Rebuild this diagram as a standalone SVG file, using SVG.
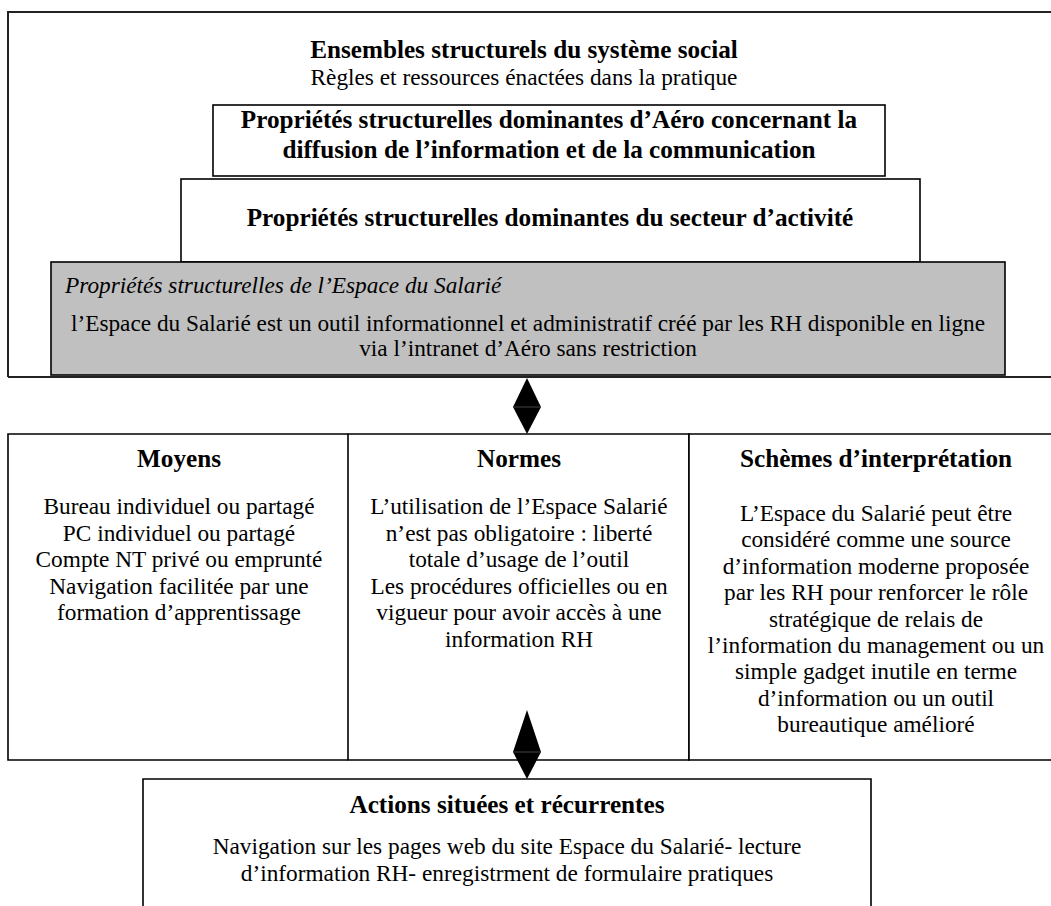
<svg xmlns="http://www.w3.org/2000/svg" width="1051" height="906" viewBox="0 0 1051 906">
<style>
.b{font-family:"Liberation Serif","Times New Roman",serif;font-weight:bold;font-size:25.2px;fill:#000;text-anchor:middle}
.r{font-family:"Liberation Serif","Times New Roman",serif;font-size:23.3px;fill:#000;text-anchor:middle}
.i{font-family:"Liberation Serif","Times New Roman",serif;font-style:italic;font-size:23.3px;fill:#000}
.box{fill:#fff;stroke:#000;stroke-width:1.6}
.line{stroke:#222;stroke-width:2;fill:none}
.arr{fill:#000}
</style>
<rect width="1051" height="906" fill="#fff"/>
<g id="frame">
<path class="line" d="M8,377 V12 H1051"/>
<path class="line" d="M8,377 H1051"/>
<text class="b" x="524" y="58">Ensembles structurels du système social</text>
<text class="r" x="524" y="85">Règles et ressources énactées dans la pratique</text>
</g>
<g id="aero">
<rect class="box" x="213" y="105" width="672" height="71"/>
<text class="b" x="549" y="128">Propriétés structurelles dominantes d’Aéro concernant la</text>
<text class="b" x="549" y="158">diffusion de l’information et de la communication</text>
</g>
<g id="secteur">
<rect class="box" x="181" y="179" width="739" height="83"/>
<text class="b" x="550" y="226">Propriétés structurelles dominantes du secteur d’activité</text>
</g>
<g id="espace">
<rect x="51" y="262" width="954" height="113" fill="#c0c0c0" stroke="#000" stroke-width="1.6"/>
<text class="i" x="65" y="293">Propriétés structurelles de l’Espace du Salarié</text>
<text class="r" x="528" y="331">l’Espace du Salarié est un outil informationnel et administratif créé par les RH disponible en ligne</text>
<text class="r" x="528" y="356">via l’intranet d’Aéro sans restriction</text>
</g>
<g id="moyens">
<path class="box" d="M348,434 H8 V760 H348"/>
<text class="b" x="179" y="467">Moyens</text>
<text class="r" x="179" y="514">Bureau individuel ou partagé</text>
<text class="r" x="179" y="540.5">PC individuel ou partagé</text>
<text class="r" x="179" y="567">Compte NT privé ou emprunté</text>
<text class="r" x="179" y="593.5">Navigation facilitée par une</text>
<text class="r" x="179" y="620">formation d’apprentissage</text>
</g>
<g id="normes">
<path class="box" d="M348,434 H689 V760 H348 Z"/>
<text class="b" x="519" y="467">Normes</text>
<text class="r" x="519" y="514">L’utilisation de l’Espace Salarié</text>
<text class="r" x="519" y="540.5">n’est pas obligatoire : liberté</text>
<text class="r" x="519" y="567">totale d’usage de l’outil</text>
<text class="r" x="519" y="593.5">Les procédures officielles ou en</text>
<text class="r" x="519" y="620">vigueur pour avoir accès à une</text>
<text class="r" x="519" y="646.5">information RH</text>
</g>
<g id="schemes">
<path class="box" d="M1051,434 H689 V760 H1051"/>
<text class="b" x="876" y="467">Schèmes d’interprétation</text>
<text class="r" x="876" y="521">L’Espace du Salarié peut être</text>
<text class="r" x="876" y="547.4">considéré comme une source</text>
<text class="r" x="876" y="573.8">d’information moderne proposée</text>
<text class="r" x="876" y="600.2">par les RH pour renforcer le rôle</text>
<text class="r" x="876" y="626.6">stratégique de relais de</text>
<text class="r" x="876" y="653">l’information du management ou un</text>
<text class="r" x="876" y="679.4">simple gadget inutile en terme</text>
<text class="r" x="876" y="705.8">d’information ou un outil</text>
<text class="r" x="876" y="732.2">bureautique amélioré</text>
</g>
<g id="actions">
<path class="box" d="M143,910 V779 H871 V910"/>
<text class="b" x="507" y="813">Actions situées et récurrentes</text>
<text class="r" x="507" y="854">Navigation sur les pages web du site Espace du Salarié- lecture</text>
<text class="r" x="507" y="881">d’information RH- enregistrment de formulaire pratiques</text>
</g>
<g id="connectors">
<polygon class="arr" points="527,378 541,407 513,407"/>
<polygon class="arr" points="513,407 541,407 527,434"/>
<line x1="514" y1="407" x2="540" y2="407" stroke="#555" stroke-width="0.8"/>
<polygon class="arr" points="527,710 541,752 513,752"/>
<polygon class="arr" points="513,752 541,752 527,779"/>
<line x1="514" y1="752" x2="540" y2="752" stroke="#555" stroke-width="0.8"/>
</g>
</svg>
